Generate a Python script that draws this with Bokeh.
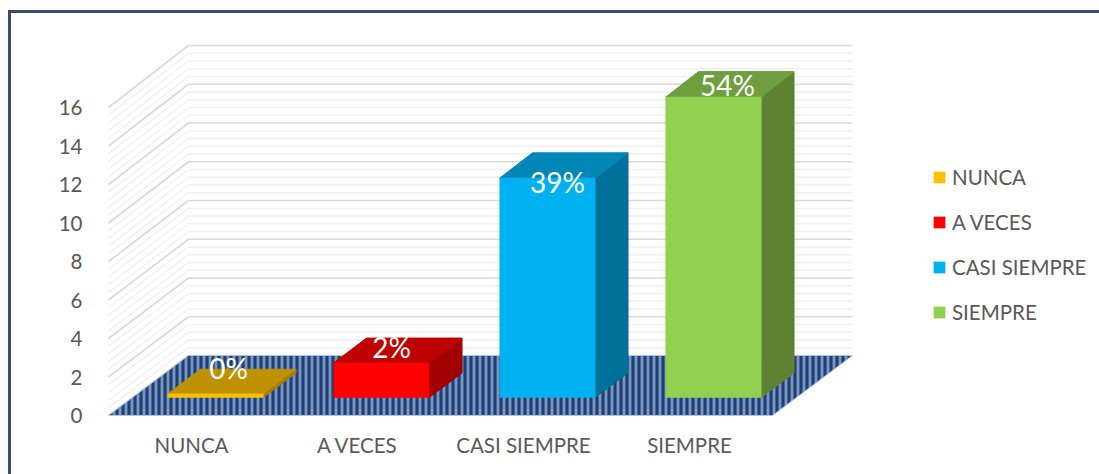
from bokeh.plotting import figure
from bokeh.models import LinearAxis, FixedTicker, Legend, LegendItem, Range1d
from bokeh.core.properties import value
from bokeh.embed import file_html
from bokeh.resources import INLINE

# --- data ---
categories = ["NUNCA", "A VECES", "CASI SIEMPRE", "SIEMPRE"]
values = [0.19, 1.8, 11.38, 15.58]
percent_labels = ["0%", "2%", "39%", "54%"]
y_ticks = [0, 2, 4, 6, 8, 10, 12, 14, 16]
front_colors = ["#FFC000", "#FF0000", "#00B0F0", "#92D050"]
top_colors = ["#BF9000", "#BF0000", "#0087B8", "#6F9E3E"]
side_colors = ["#A67D00", "#A00000", "#00719B", "#5E8232"]

# --- layout of the oblique projection (page pixels) ---
PX_CAT, PX_VAL = 166.0, 19.25
LEFT_PX, FLOOR_PX = 108.0, 415.0          # front-left floor corner on the page
ORIGIN_X, ORIGIN_Y = 8, 10                # outer corner of the bordered chart
BORDER = 3
W, H = 1088, 461
CANVAS_X, CANVAS_Y = ORIGIN_X + BORDER, ORIGIN_Y + BORDER
FRAME_L, FRAME_B, FRAME_T, FRAME_R = 100, 420, CANVAS_Y, CANVAS_X + W
DX = 80 / PX_CAT                          # full depth shift, category units
DY = 60 / PX_VAL                          # full depth shift, value units
GROW = 0.0065                             # back wall slightly taller
BAR_W, BAR_START, BAR_DEPTH = 0.575, 0.30, 0.41
LABEL_DX = [13, 10, 10, 14]
LABEL_DY = [-26, -16, 4, -12]


def proj(c, v, d):
    return c + d * DX, v * (1 + GROW * d) + d * DY


p = figure(width=W, height=H, output_backend="svg", toolbar_location=None,
           x_axis_type=None, y_axis_type=None,
           x_range=Range1d((FRAME_L - LEFT_PX) / PX_CAT, (FRAME_R - LEFT_PX) / PX_CAT),
           y_range=Range1d((FLOOR_PX - FRAME_B) / PX_VAL, (FLOOR_PX - FRAME_T) / PX_VAL),
           min_border_left=FRAME_L - CANVAS_X, min_border_right=BORDER, min_border_top=0,
           min_border_bottom=CANVAS_Y + H - FRAME_B + BORDER)
p.margin = (ORIGIN_Y, 0, 0, ORIGIN_X)
p.styles = {"border-left": f"{BORDER}px solid #3B4A66", "border-top": f"{BORDER}px solid #3B4A66",
            "box-sizing": "content-box"}
p.outline_line_color = None
p.background_fill_color = "white"
p.border_fill_color = "white"
p.grid.visible = False

# walls
n_minor = 40
for i in range(n_minor + 1):
    v = 16 * i / n_minor
    major = i % 5 == 0
    xs, ys = zip(proj(0, v, 0), proj(0, v, 1), proj(4, v, 1))
    p.line(list(xs), list(ys), line_color="#d9d9d9" if major else "#f0f0f0",
           line_width=1.6 if major else 1.5)

# floor
fx, fy = zip(proj(0, 0, 0), proj(4, 0, 0), proj(4, 0, 1), proj(0, 0, 1))
p.patch(list(fx), list(fy), fill_color="#7C97BE", line_color="#B4C3D8", line_width=1,
        hatch_pattern="vertical_line", hatch_color="#1F3F78", hatch_weight=3.2, hatch_scale=6)

# bars
items = []
for i, (name, val) in enumerate(zip(categories, values)):
    l = i + 0.5 - BAR_W / 2
    r = i + 0.5 + BAR_W / 2
    d0, d1 = BAR_START, BAR_START + BAR_DEPTH
    sx, sy = zip(proj(r, 0, d0), proj(r, 0, d1), proj(r, val, d1), proj(r, val, d0))
    p.patch(list(sx), list(sy), fill_color=side_colors[i], line_color=side_colors[i])
    tx, ty = zip(proj(l, val, d0), proj(r, val, d0), proj(r, val, d1), proj(l, val, d1))
    p.patch(list(tx), list(ty), fill_color=top_colors[i], line_color=top_colors[i])
    x0, y0 = proj(l, 0, d0)
    x1, y1 = proj(r, val, d0)
    q = p.quad(left=x0, right=x1, bottom=y0, top=y1, fill_color=front_colors[i],
               line_color=front_colors[i], line_width=0.5)
    items.append(LegendItem(label=name, renderers=[q]))

# data labels
for i, val in enumerate(values):
    cx, cy = proj(i + 0.5, val, BAR_START)
    p.text([cx], [cy], text=[percent_labels[i]], text_color="white",
           text_font=value("Lato"), text_font_size="28px", text_align="center",
           text_baseline="middle", x_offset=LABEL_DX[i], y_offset=LABEL_DY[i])

# axes
yax = LinearAxis(ticker=FixedTicker(ticks=y_ticks))
yax.axis_line_color = None
yax.major_tick_line_color = None
yax.minor_tick_line_color = None
yax.major_label_text_color = "#595959"
yax.major_label_text_font = "Lato"
yax.major_label_text_font_size = "20.5px"
yax.major_label_standoff = 12
p.add_layout(yax, "left")

xax = LinearAxis(ticker=FixedTicker(ticks=[i + 0.5 for i in range(len(categories))]),
                 major_label_overrides={i + 0.5: c for i, c in enumerate(categories)})
xax.axis_line_color = None
xax.major_tick_line_color = None
xax.minor_tick_line_color = None
xax.major_label_text_color = "#595959"
xax.major_label_text_font = "Lato"
xax.major_label_text_font_size = "20.5px"
xax.major_label_standoff = 6
p.add_layout(xax, "below")

# legend
legend = Legend(items=items, location=(832, 96), orientation="vertical",
                glyph_width=14, glyph_height=14, label_standoff=6, spacing=21,
                padding=0, margin=0, border_line_color=None, background_fill_alpha=0,
                label_text_font="Lato", label_text_font_size="20.5px",
                label_text_color="#595959")
p.add_layout(legend, "center")

open("out.html", "w").write(file_html(p, INLINE))
